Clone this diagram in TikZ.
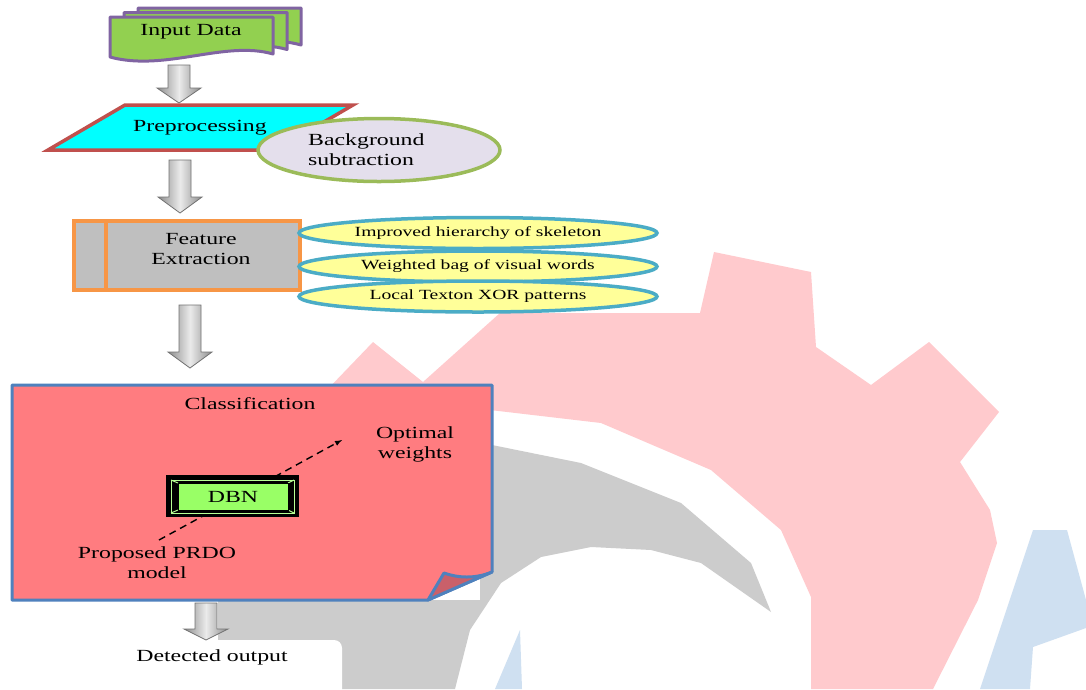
\documentclass[tikz,border=0pt]{standalone}
\usepackage{fontspec}
\setmainfont{Liberation Serif}[FakeStretch=1.4]
\usetikzlibrary{shapes.geometric,arrows,calc}

\definecolor{docgreen}{HTML}{92D050}
\definecolor{docpurple}{HTML}{8064A2}
\definecolor{prepcyan}{HTML}{00FFFF}
\definecolor{preprim}{HTML}{C0504D}
\definecolor{bglilac}{HTML}{E4DFEC}
\definecolor{bgrim}{HTML}{9BBB59}
\definecolor{featgray}{HTML}{BFBFBF}
\definecolor{featrim}{HTML}{F79646}
\definecolor{featyellow}{HTML}{FFFF99}
\definecolor{featblue}{HTML}{4BACC6}
\definecolor{classred}{HTML}{FF7C80}
\definecolor{classrim}{HTML}{4F81BD}
\definecolor{foldred}{HTML}{C9606A}
\definecolor{dbngreen}{HTML}{99FF66}
\definecolor{markpink}{HTML}{FFCACD}
\definecolor{markgray}{HTML}{CCCCCC}
\definecolor{markblue}{HTML}{CFE0F1}

\tikzset{
  plain/.style={font=\fontsize{17}{20}\selectfont, align=center, inner sep=0pt},
  docpage/.style={draw=docpurple, line width=3pt, fill=docgreen, line join=round},
  method/.style={ellipse, draw=featblue, line width=3.5pt, fill=featyellow,
    minimum width=358pt, minimum height=31pt, inner sep=0pt,
    font=\fontsize{14}{16}\selectfont},
  blockarr/.style={draw=black!55, line width=0.8pt, left color=black!45,
    right color=black!45, middle color=black!8},
  hint/.style={dash pattern=on 7pt off 5pt, line width=1.4pt, -latex},
}

% block arrow: [head length]{start}{end}
\newcommand{\blockarrow}[3][16]{%
  \draw[blockarr] let \p1=(#2), \p2=(#3) in
    (\x1-11pt,\y1) -- (\x1+11pt,\y1) -- (\x1+11pt,\y2+#1pt) -- (\x1+22pt,\y2+#1pt)
    -- (\x2,\y2) -- (\x1-22pt,\y2+#1pt) -- (\x1-11pt,\y2+#1pt) -- cycle;}

\begin{document}
\begin{tikzpicture}[x=1pt,y=-1pt]
\useasboundingbox (0,0) rectangle (1086,689);
\fill[white] (0,0) rectangle (1086,689);

% watermark
\fill[markpink] (325,392) -- (373,342) -- (423,382) -- (500,313) -- (700,313)
  -- (714,252) -- (811,272) -- (816,347) -- (871,385) -- (929,342) -- (999,412)
  -- (960,462) -- (990,510) -- (997,543) -- (978,600) -- (933,689) -- (811,689)
  -- (811,597) -- (781,530) -- (711,470) -- (601,423) -- (490,410) -- (490,392) -- cycle;
\fill[markgray] (218,600) -- (218,689) -- (455,689) -- (470,630) -- (501,583)
  -- (541,557) -- (591,547) -- (651,550) -- (701,563) -- (771,612) -- (751,563)
  -- (681,503) -- (581,463) -- (492,445) -- (480,445) -- (480,600) -- cycle;
\fill[markblue] (1033,530) -- (1067,530) -- (1086,600) -- (1086,628) -- (1033,647)
  -- (1030,689) -- (980,689) -- cycle;
\fill[markblue] (520,630) -- (522,689) -- (495,689) -- cycle;

% input data
\foreach \dx/\dy in {28/-9, 14/-4.5, 0/0} {
  \draw[docpage, shift={(\dx,\dy)}] (110,17) -- (273,17) -- (273,54)
    .. controls (225,40) and (165,72) .. (110,57) -- cycle;
}
\node[plain] (input) at (191,32) {Input Data};

\coordinate (a1s) at (179,65);
\coordinate (a1e) at (179,103);
\blockarrow[15]{a1s}{a1e}

% preprocessing
\draw[line width=3.5pt, draw=preprim, fill=prepcyan] (125,105) -- (353,105)
  -- (276,150) -- (48,150) -- cycle;
\node[plain] (prep) at (200,128) {Preprocessing};
\node[ellipse, draw=bgrim, line width=3.5pt, fill=bglilac, minimum width=242pt,
  minimum height=63pt] (bg) at (379,150) {};
\node[plain, align=left, anchor=west] (bgtext) at (308,150) {Background\\subtraction};

\coordinate (a2s) at (180,160);
\coordinate (a2e) at (180,213);
\blockarrow{a2s}{a2e}

% feature extraction
\draw[line width=3.5pt, draw=featrim, fill=featgray] (74,221) rectangle (300,290);
\draw[line width=3.5pt, draw=featrim] (106,221) -- (106,290);
\node[plain] (feat) at (201,249) {Feature\\Extraction};
\node[method] (m1) at (478,233) {Improved hierarchy of skeleton};
\node[method] (m2) at (478,266.5) {Weighted bag of visual words};
\node[method] (m3) at (478,296.5) {Local Texton XOR patterns};

\coordinate (a3s) at (190,305);
\coordinate (a3e) at (190,368);
\blockarrow{a3s}{a3e}

% classification
\draw[line width=3pt, draw=classrim, fill=classred, line join=round] (12,385)
  -- (492,385) -- (492,572) -- (428,600) -- (12,600) -- cycle;
\draw[line width=3pt, draw=classrim, fill=foldred, line join=round] (492,572)
  .. controls (475,579) and (458,578) .. (444,573) -- (428,600) -- cycle;
\node[plain] (cls) at (250,404) {Classification};

\coordinate (prdotip) at (159,540);
\coordinate (opttip) at (342,440);
\draw[hint] (prdotip) -- (opttip);

\fill[black] (166,475) rectangle (299,517);
\draw[dbngreen!70!white, line width=1pt] (171,480) rectangle (294,513);
\draw[dbngreen!70!white, line width=1pt] (171,480) -- (178,483) (294,480) -- (288,483)
  (171,513) -- (178,510) (294,513) -- (288,510);
\node[plain, draw=black, line width=0.8pt, fill=dbngreen, minimum width=110pt,
  minimum height=27pt] (dbn) at (233,496.5) {DBN};

\node[plain] (opt) at (415,444.5) {Optimal\\weights};
\node[plain] (prdo) at (157,563) {Proposed PRDO\\model};

% output
\fill[white, rounded corners=8pt] (82,640) rectangle (342,700);
\coordinate (a4s) at (206,603);
\coordinate (a4e) at (206,640);
\blockarrow[11]{a4s}{a4e}
\node[plain] (out) at (212,657) {Detected output};
\end{tikzpicture}
\end{document}
